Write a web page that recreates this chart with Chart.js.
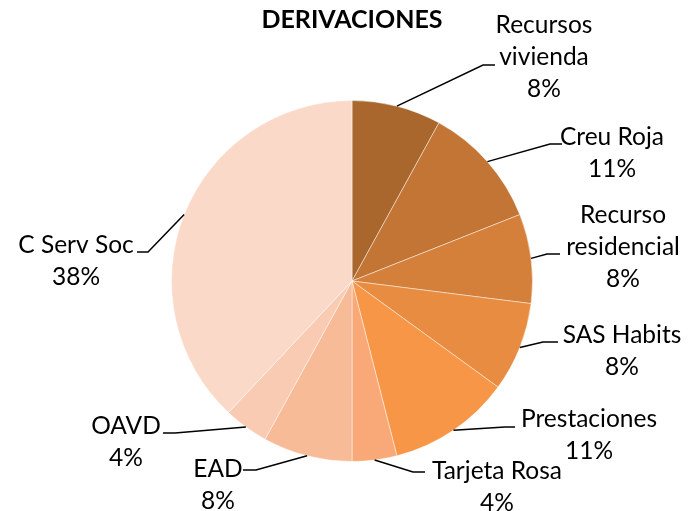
<!DOCTYPE html>
<html>
<head>
<meta charset="utf-8">
<title>Derivaciones</title>
<script src="https://cdn.jsdelivr.net/npm/chart.js@4/dist/chart.umd.min.js"></script>
<style>
  html, body { margin: 0; padding: 0; background: #fff; }
  #chart { display: block; }
</style>
</head>
<body>
<canvas id="chart" width="693" height="511"></canvas>
<script>
const categories = [
  "Recursos vivienda",
  "Creu Roja",
  "Recurso residencial",
  "SAS Habits",
  "Prestaciones",
  "Tarjeta Rosa",
  "EAD",
  "OAVD",
  "C Serv Soc",
];
const percentages = [8, 11, 8, 8, 11, 4, 8, 4, 38];
// how each category name wraps in its label
const labelNames = [
  ["Recursos", "vivienda"],
  ["Creu Roja"],
  ["Recurso", "residencial"],
  ["SAS Habits"],
  ["Prestaciones"],
  ["Tarjeta Rosa"],
  ["EAD"],
  ["OAVD"],
  ["C Serv Soc"],
];
const sliceColors = [
  "#a9672e",
  "#c27535",
  "#d4803b",
  "#e88c42",
  "#f79646",
  "#f9a977",
  "#f8bb98",
  "#f9cbb3",
  "#fbd9c9",
];

// label placement: text centre x, first line y, leader elbow and end of the short tail
const labelLayout = [
  { tx: 544, ty: 25, ex: 483, ey: 65, hx: 495 },
  { tx: 612, ty: 137, ex: 550, ey: 144, hx: 562 },
  { tx: 623, ty: 215, ex: 547, ey: 254, hx: 560 },
  { tx: 622, ty: 335, ex: 543, ey: 342, hx: 558 },
  { tx: 589, ty: 419, ex: 505, ey: 427, hx: 515 },
  { tx: 497, ty: 471, ex: 413, ey: 472, hx: 425 },
  { tx: 218, ty: 469, ex: 256, ey: 470, hx: 243 },
  { tx: 126, ty: 426, ex: 175, ey: 433, hx: 163 },
  { tx: 76, ty: 245, ex: 148, ey: 252, hx: 137 },
];

const LABEL_FONT = "24.5px Lato, 'Open Sans', sans-serif";
const LINE_HEIGHT = 32;

const calloutLabels = {
  id: "calloutLabels",
  afterDatasetsDraw(chart) {
    const { ctx } = chart;
    const arcs = chart.getDatasetMeta(0).data;
    ctx.save();
    arcs.forEach((arc, i) => {
      const { x, y, startAngle, endAngle, outerRadius } = arc.getProps(
        ["x", "y", "startAngle", "endAngle", "outerRadius"],
        true
      );
      const mid = (startAngle + endAngle) / 2;
      const sx = x + Math.cos(mid) * outerRadius;
      const sy = y + Math.sin(mid) * outerRadius;
      const lay = labelLayout[i];

      ctx.strokeStyle = "#000";
      ctx.lineWidth = 1.5;
      ctx.beginPath();
      ctx.moveTo(sx, sy);
      ctx.lineTo(lay.ex, lay.ey);
      ctx.lineTo(lay.hx, lay.ey);
      ctx.stroke();

      const lines = [...labelNames[i], `${percentages[i]}%`];
      ctx.fillStyle = "#000";
      ctx.font = LABEL_FONT;
      ctx.textAlign = "center";
      ctx.textBaseline = "middle";
      lines.forEach((line, k) => {
        ctx.fillText(line, lay.tx, lay.ty + k * LINE_HEIGHT);
      });
    });
    ctx.restore();
  },
};

new Chart(document.getElementById("chart"), {
  type: "pie",
  data: {
    labels: categories,
    datasets: [
      {
        data: percentages,
        backgroundColor: sliceColors,
        borderColor: "rgba(255, 255, 255, 0.45)",
        borderWidth: 1,
      },
    ],
  },
  options: {
    responsive: false,
    animation: false,
    layout: { padding: { top: 0, left: 171, right: 160, bottom: 49 } },
    plugins: {
      legend: { display: false },
      tooltip: { enabled: false },
      title: {
        display: true,
        text: "DERIVACIONES",
        color: "#000",
        font: { family: "Lato, 'Open Sans', sans-serif", size: 25, weight: "bold", lineHeight: 1.2 },
        padding: { top: 5, bottom: 65 },
      },
    },
  },
  plugins: [calloutLabels],
});
</script>
</body>
</html>
